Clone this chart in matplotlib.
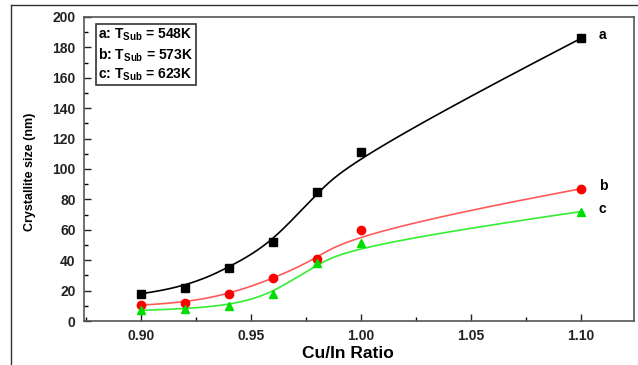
import numpy as np
import matplotlib.pyplot as plt
from matplotlib.lines import Line2D
from matplotlib.ticker import MultipleLocator

# Cu/In ratio and crystallite size (nm) for three substrate temperatures
ratio = [0.90, 0.92, 0.94, 0.96, 0.98, 1.00, 1.10]
size_a = [18, 22, 35, 52, 85, 111, 186]
size_b = [10.5, 12, 17.5, 28, 41, 60, 87]
size_c = [7, 8, 10, 18, 38, 51, 72]
curve_labels = ['a', 'b', 'c']
legend_lines = [r'a: $\mathbf{T_{Sub}}$ = 548K',
                r'b: $\mathbf{T_{Sub}}$ = 573K',
                r'c: $\mathbf{T_{Sub}}$ = 623K']


def bspline(px, py, n=400, k=3):
    # clamped cubic B-spline using the data points as control points
    P = np.column_stack([px, py]).astype(float)
    nc = len(P)
    knots = np.concatenate([np.zeros(k), np.arange(nc - k + 1), np.full(k, nc - k)])
    t = np.linspace(0, nc - k, n)
    t[-1] -= 1e-9
    # Cox-de Boor recursion
    B = np.zeros((n, len(knots) - 1))
    for i in range(len(knots) - 1):
        B[:, i] = (t >= knots[i]) & (t < knots[i + 1])
    for d in range(1, k + 1):
        Bn = np.zeros((n, len(knots) - 1 - d))
        for i in range(len(knots) - 1 - d):
            a = knots[i + d] - knots[i]
            b = knots[i + d + 1] - knots[i + 1]
            left = (t - knots[i]) / a * B[:, i] if a > 0 else 0
            right = (knots[i + d + 1] - t) / b * B[:, i + 1] if b > 0 else 0
            Bn[:, i] = left + right
        B = Bn
    C = B @ P
    return C[:, 0], C[:, 1]


plt.rcParams['font.family'] = ['Liberation Sans', 'DejaVu Sans']
plt.rcParams['font.weight'] = 'bold'
plt.rcParams['mathtext.fontset'] = 'custom'
plt.rcParams['mathtext.bf'] = 'Liberation Sans:bold'
plt.rcParams['mathtext.rm'] = 'Liberation Sans:bold'

fig = plt.figure(figsize=(6.38, 3.65), dpi=100)
ax = fig.add_axes([0.1317, 0.1205, 0.862, 0.833])

# outer frame (left and top edges only visible)
fig.add_artist(Line2D([0.0172, 0.0172], [0.0, 0.9863], color='#333333', lw=1.0))
fig.add_artist(Line2D([0.0172, 1.0], [0.9863, 0.9863], color='#333333', lw=1.0))

series = [(size_a, 'black', 'black', 's'),
          (size_b, '#ff5a5a', 'red', 'o'),
          (size_c, '#33ee33', '#00dd00', '^')]

for (vals, lc, mc, mk) in series:
    cx, cy = bspline(ratio, vals)
    ax.plot(cx, cy, color=lc, lw=1.2, zorder=2)
    ax.plot(ratio, vals, linestyle='none', marker=mk, color=mc,
            markersize=6, zorder=3)

# end-of-curve letters
for lab, vals in zip(curve_labels, [size_a, size_b, size_c]):
    ax.text(1.108, vals[-1] + 2, lab, fontsize=10, fontweight='bold',
            ha='left', va='center')

ax.text(0.8805, 193.5, '\n'.join(legend_lines), fontsize=10, fontweight='bold',
        va='top', ha='left', linespacing=1.22,
        bbox=dict(boxstyle='square,pad=0.2', fc='white', ec='#333333', lw=1.2))

ax.set_xlim(0.874, 1.124)
ax.set_ylim(0, 200)
ax.xaxis.set_major_locator(MultipleLocator(0.05))
ax.xaxis.set_minor_locator(MultipleLocator(0.025))
ax.yaxis.set_major_locator(MultipleLocator(20))
ax.yaxis.set_minor_locator(MultipleLocator(10))
ax.xaxis.set_major_formatter(plt.FormatStrFormatter('%.2f'))
ax.tick_params(which='major', direction='in', length=5, width=1,
               labelsize=10, colors='#222222', pad=6)
ax.tick_params(which='minor', direction='in', length=3, width=1)
for s in ax.spines.values():
    s.set_color('#555555')
    s.set_linewidth(1.2)

ax.set_xlabel('Cu/In Ratio', fontsize=12.5, fontweight='bold')
ax.set_ylabel('Crystallite size (nm)', fontsize=9, fontweight='bold')
ax.xaxis.set_label_coords(0.48, -0.108)
ax.yaxis.set_label_coords(-0.098, 0.49)
ax.xaxis.label.set_va('center')
ax.yaxis.label.set_va('center')

fig.savefig('out.png', dpi=100)
